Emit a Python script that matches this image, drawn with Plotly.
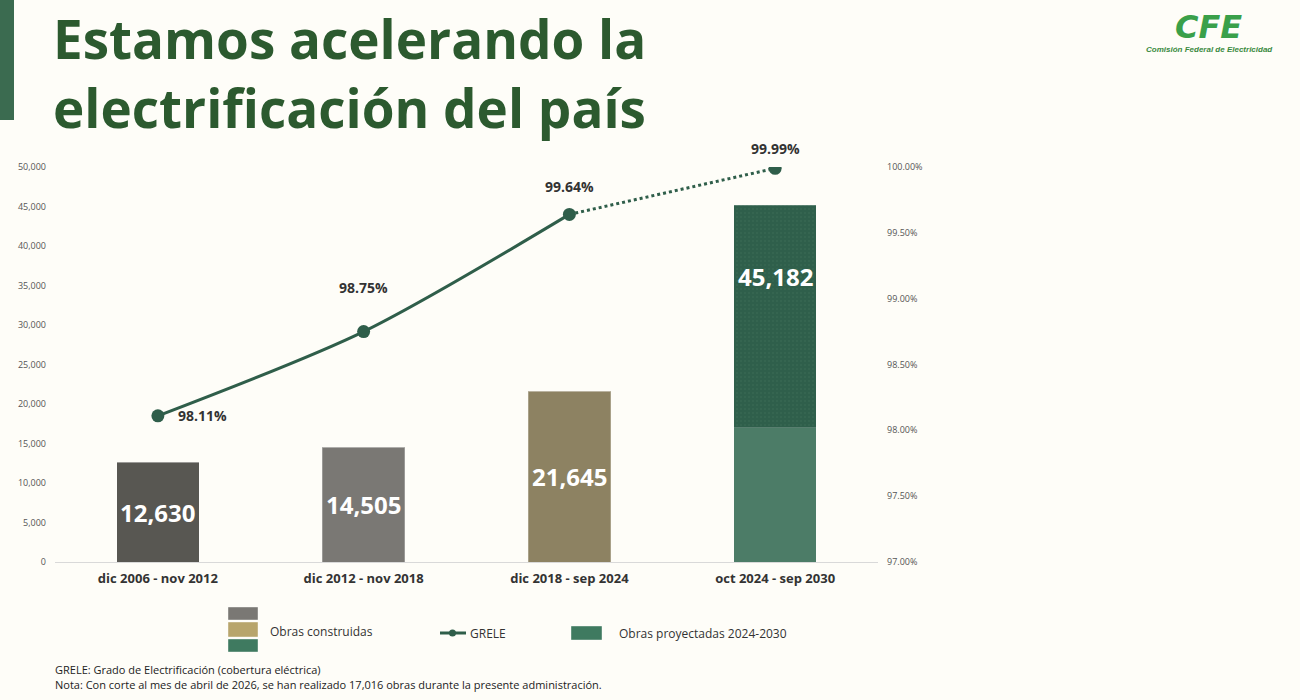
import plotly.graph_objects as go

# ---------------- data ----------------
categories = ["dic 2006 - nov 2012", "dic 2012 - nov 2018", "dic 2018 - sep 2024", "oct 2024 - sep 2030"]
obras_construidas = [12630, 14505, 21645, 17016]
obras_proyectadas = [0, 0, 0, 28166]
grele = [98.11, 98.75, 99.64, 99.99]
left_ticks = [0, 5000, 10000, 15000, 20000, 25000, 30000, 35000, 40000, 45000, 50000]
right_ticks = [97.0, 97.5, 98.0, 98.5, 99.0, 99.5, 100.0]
totals = [a + b for a, b in zip(obras_construidas, obras_proyectadas)]

# ---------------- styles ----------------
W, H = 1300, 700
L, R, T, B = 55, 422, 167, 138
PW, PH = W - L - R, H - T - B
built_colors = ["#585752", "#7a7874", "#8d8262", "#4c7c67"]
proj_color = "#2f5f4b"
line_color = "#2f5e4a"
title_color = "#2c5a2f"
FONT = "Open Sans"


def px(x):
    return (x - L) / PW


def py(y):
    return (H - B - y) / PH


fig = go.Figure()

fig.add_trace(go.Bar(
    x=categories, y=obras_construidas, name="Obras construidas",
    marker=dict(color=built_colors, line=dict(color="rgba(255,255,255,0.25)", width=1)),
    hoverinfo="skip", showlegend=False,
))
fig.add_trace(go.Bar(
    x=categories, y=obras_proyectadas, name="Obras proyectadas 2024-2030",
    marker=dict(color=proj_color, line=dict(color="rgba(255,255,255,0.2)", width=1),
                pattern=dict(shape=".", fgcolor="#3d6e58", size=4, solidity=0.2)),
    hoverinfo="skip", showlegend=False,
))

# GRELE line: solid over the realised periods, dotted toward the projection
fig.add_trace(go.Scatter(
    x=categories[2:], y=grele[2:], yaxis="y2", mode="lines",
    line=dict(color=line_color, width=3, dash="dot"),
    hoverinfo="skip", showlegend=False,
))
fig.add_trace(go.Scatter(
    x=categories[:3], y=grele[:3], yaxis="y2", mode="lines",
    line=dict(color=line_color, width=3, shape="spline", smoothing=0.8),
    hoverinfo="skip", showlegend=False,
))
fig.add_trace(go.Scatter(
    x=categories, y=grele, yaxis="y2", mode="markers", name="GRELE",
    marker=dict(color=line_color, size=13),
    hoverinfo="skip", showlegend=False,
))

ann = []
# bar value labels
label_pos = [0.5, 0.5, 0.5, 0.8]
for c, t, f in zip(categories, totals, label_pos):
    ann.append(dict(x=c, y=t * f, xref="x", yref="y", text=f"<b>{t:,}</b>", showarrow=False,
                    font=dict(family=FONT, size=24, color="white")))

# GRELE labels
g_off = [(45, 0), (0, 44), (0, 28), (0, 20)]
for c, g, (dx, dy) in zip(categories, grele, g_off):
    ann.append(dict(x=c, y=g, xref="x", yref="y2", text=f"<b>{g:.2f}%</b>", showarrow=False,
                    xshift=dx, yshift=dy, font=dict(family=FONT, size=14, color="#333333")))

# title
ann.append(dict(x=px(51), y=py(0), xref="paper", yref="paper", xanchor="left", yanchor="top",
                text="<b>Estamos acelerando la<br>electrificación del país</b>", showarrow=False,
                align="left", font=dict(family=FONT, size=53, color=title_color)))

# logo
ann.append(dict(x=px(1208), y=py(27), xref="paper", yref="paper", xanchor="center", yanchor="middle",
                text="<b><i>CFE</i></b>", showarrow=False,
                font=dict(family="DejaVu Sans", size=32, color="#3aa04a")))
ann.append(dict(x=px(1209), y=py(50), xref="paper", yref="paper", xanchor="center", yanchor="middle",
                text="<b><i>Comisión Federal de Electricidad</i></b>", showarrow=False,
                font=dict(family="Liberation Sans Narrow, Liberation Sans", size=8, color="#3a8a40")))

# legend texts
ann.append(dict(x=px(268), y=py(631), xref="paper", yref="paper", xanchor="left", yanchor="middle",
                text="Obras construidas", showarrow=False, font=dict(family=FONT, size=12, color="#333")))
ann.append(dict(x=px(468), y=py(633), xref="paper", yref="paper", xanchor="left", yanchor="middle",
                text="GRELE", showarrow=False, font=dict(family=FONT, size=12, color="#333")))
ann.append(dict(x=px(617), y=py(633), xref="paper", yref="paper", xanchor="left", yanchor="middle",
                text="Obras proyectadas 2024-2030", showarrow=False, font=dict(family=FONT, size=12, color="#333")))

# footnotes
ann.append(dict(x=px(53), y=py(669), xref="paper", yref="paper", xanchor="left", yanchor="middle",
                text="GRELE: Grado de Electrificación (cobertura eléctrica)", showarrow=False,
                font=dict(family=FONT, size=11, color="#222")))
ann.append(dict(x=px(53), y=py(684), xref="paper", yref="paper", xanchor="left", yanchor="middle",
                text="Nota: Con corte al mes de abril de 2026, se han realizado 17,016 obras durante la presente administración.",
                showarrow=False, font=dict(family=FONT, size=11, color="#222")))

shapes = []
# left green stripe
shapes.append(dict(type="rect", xref="paper", yref="paper", x0=px(0), x1=px(14), y0=py(120), y1=py(0),
                   fillcolor="#3b6b50", line=dict(width=0), layer="above"))
# legend swatches
for (y0, y1), col in zip([(607, 620), (622, 637), (639, 652)], ["#7a7874", "#b8a56c", "#3f7a60"]):
    shapes.append(dict(type="rect", xref="paper", yref="paper", x0=px(228), x1=px(258), y0=py(y1), y1=py(y0),
                       fillcolor=col, line=dict(color="rgba(255,255,255,0.4)", width=1)))
shapes.append(dict(type="line", xref="paper", yref="paper", x0=px(440), x1=px(466), y0=py(633), y1=py(633),
                   line=dict(color=line_color, width=3)))
shapes.append(dict(type="circle", xref="paper", yref="paper", x0=px(449), x1=px(456), y0=py(636.5), y1=py(629.5),
                   fillcolor=line_color, line=dict(width=0)))
shapes.append(dict(type="rect", xref="paper", yref="paper", x0=px(571), x1=px(602), y0=py(640), y1=py(626),
                   fillcolor="#3f7a60", line=dict(color="rgba(255,255,255,0.4)", width=1)))

fig.update_layout(
    width=W, height=H,
    margin=dict(l=L, r=R, t=T, b=B),
    paper_bgcolor="#fefdf8", plot_bgcolor="rgba(0,0,0,0)",
    barmode="stack", bargap=0.6,
    font=dict(family=FONT, color="#555"),
    showlegend=False,
    xaxis=dict(type="category", range=[-0.5, 3.5], showgrid=False, showline=True,
               linecolor="#d9d9d9", linewidth=1, ticks="",
               tickfont=dict(family=FONT, size=13, color="#333"), ticklabelstandoff=4,
               tickprefix="<b>", ticksuffix="</b>"),
    yaxis=dict(range=[0, 50000], tickvals=left_ticks, tickformat=",d", showgrid=False, zeroline=False,
               tickfont=dict(family=FONT, size=9, color="#555"), ticklabelstandoff=8),
    yaxis2=dict(range=[97, 100], tickvals=right_ticks, ticktext=[f"{v:.2f}%" for v in right_ticks],
                overlaying="y", side="right", showgrid=False, zeroline=False,
                tickfont=dict(family=FONT, size=9, color="#555"), ticklabelstandoff=8),
    annotations=ann, shapes=shapes,
)

fig.write_html("out.html")
